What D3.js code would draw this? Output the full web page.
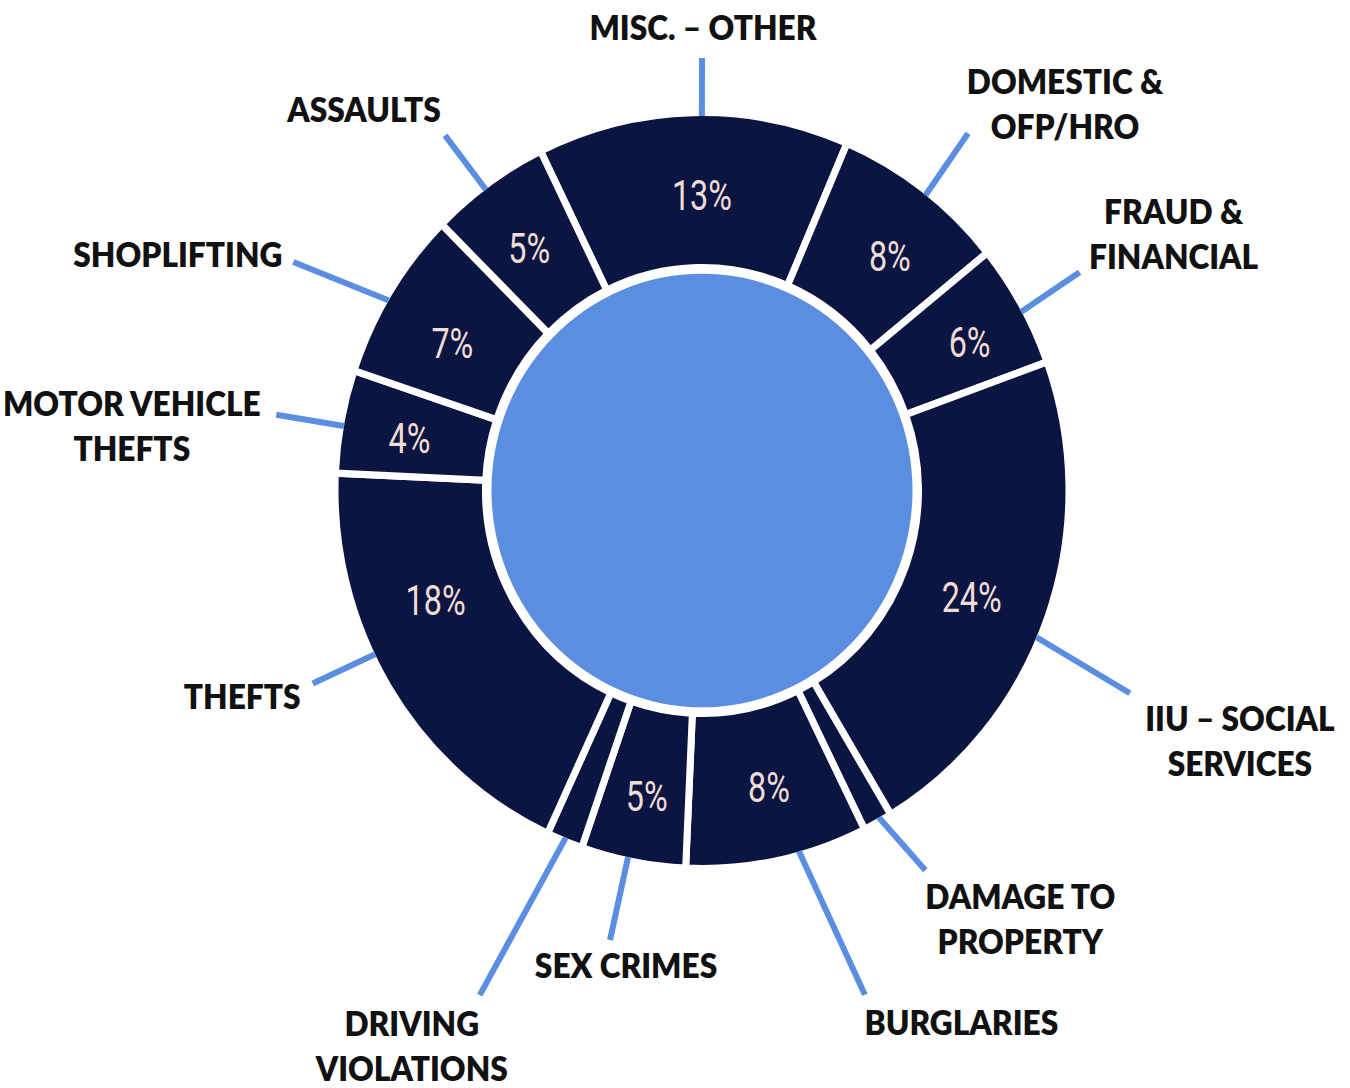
<!DOCTYPE html>
<html>
<head>
<meta charset="utf-8">
<script src="https://cdn.jsdelivr.net/npm/d3@7"></script>
<style>
  html, body { margin: 0; padding: 0; background: #ffffff; }
  svg { display: block; }
</style>
</head>
<body>
<svg id="chart" width="1350" height="1088"></svg>
<script>
// ---- data ----
const categories = ["Misc. – Other", "Domestic & OFP/HRO", "Fraud & Financial", "IIU – Social Services",
  "Damage to Property", "Burglaries", "Sex Crimes", "Driving Violations", "Thefts",
  "Motor Vehicle Thefts", "Shoplifting", "Assaults"];
const shares = [13.7, 7.7, 5.3, 21.9, 1.3, 8.0, 4.6, 1.6, 18.8, 4.4, 7.3, 5.3];
const pctLabels = ["13%", "8%", "6%", "24%", "", "8%", "5%", "", "18%", "4%", "7%", "5%"];
const labelLines = [
  ["MISC. – OTHER"],
  ["DOMESTIC &", "OFP/HRO"],
  ["FRAUD &", "FINANCIAL"],
  ["IIU – SOCIAL", "SERVICES"],
  ["DAMAGE TO", "PROPERTY"],
  ["BURGLARIES"],
  ["SEX CRIMES"],
  ["DRIVING", "VIOLATIONS"],
  ["THEFTS"],
  ["MOTOR VEHICLE", "THEFTS"],
  ["SHOPLIFTING"],
  ["ASSAULTS"]
];

// ---- layout / style ----
const W = 1350, H = 1088;
const cx = 702, cy = 490.5, sy = 1.03;
const rBlue = 210.5, rIn = 220, rOut = 363.5, gapW = 7;
const startDeg = -26.1;
const navy = "#0b1541", blue = "#5b8ee0", pctColor = "#f1ddd5", labelColor = "#111111";
// callout layout: start-angle shift, leader end (angle, radius), text offset from leader end
const callout = [
  {s: 1.4,   a: 0,     r: 420, dx: 1,      dy: -30},
  {s: 0.8,   a: 37.5,  r: 437, dx: 97,     dy: -51.5},
  {s: 0.9,   a: 60.7,  r: 433, dx: 94,     dy: -60},
  {s: 3.5,   a: 114.7, r: 471, dx: 110,    dy: 26},
  {s: -0.5,  a: 148.8, r: 431, dx: 95,     dy: 26.5},
  {s: -3.6,  a: 161.6, r: 516, dx: 96.5,   dy: 28.5},
  {s: 0.9,   a: 191.9, r: 446, dx: 16,     dy: 26},
  {s: 0,     a: 204.4, r: 538, dx: -68,    dy: 29},
  {s: 5.3,   a: 244.3, r: 432, dx: -70.5,  dy: 13.5},
  {s: -0.65, a: 279.8, r: 432, dx: -144.5, dy: -10.5},
  {s: -1.15, a: 298.5, r: 465, dx: -115.5, dy: -7},
  {s: -0.85, a: 323.3, r: 430, dx: -81,    dy: -25.5}
];
// percentage label placement: angle shift from slice middle, radius
const pctShift = [1.4, 2.4, 1.1, 1.5, 0, -1.2, -0.3, 0, 9.4, -0.65, -1.75, -0.65];
const pctR = [287, 295, 304, 289, 294, 296, 302, 294, 287, 297, 288, 292];
const labelFont = 33, labelScaleX = 0.96, lineGap = 45, pctFont = 42;

const rad = d => d * Math.PI / 180;
const deg = r => r * 180 / Math.PI;
const polar = (aDeg, r) => [cx + r * Math.sin(rad(aDeg)), cy - r * Math.cos(rad(aDeg)) * sy];

const svg = d3.select("#chart");
svg.append("rect").attr("width", W).attr("height", H).attr("fill", "#fff");

const pie = d3.pie().sort(null).value(d => d)
  .startAngle(rad(startDeg)).endAngle(rad(startDeg) + 2 * Math.PI);
const arcs = pie(shares);
const arc = d3.arc().innerRadius(rIn - gapW / 2).outerRadius(rOut + gapW / 2);

const g = svg.append("g").attr("transform", `translate(${cx},${cy}) scale(1,${sy})`);
g.append("circle").attr("r", rBlue).attr("fill", blue);
g.selectAll("path.slice").data(arcs).join("path")
  .attr("class", "slice")
  .attr("d", arc)
  .attr("fill", navy)
  .attr("stroke", "#fff")
  .attr("stroke-width", gapW)
  .attr("stroke-linejoin", "miter");

arcs.forEach((d, i) => {
  const mid = deg((d.startAngle + d.endAngle) / 2);
  const c = callout[i];
  const p0 = polar(mid + c.s, rOut);
  const p1 = polar(c.a, c.r);
  // leader line
  svg.append("line")
    .attr("x1", p0[0]).attr("y1", p0[1])
    .attr("x2", p1[0]).attr("y2", p1[1])
    .attr("stroke", blue).attr("stroke-width", 6);

  // category label
  const t = svg.append("text")
    .attr("transform", `translate(${p1[0] + c.dx},${p1[1] + c.dy}) scale(${labelScaleX},1)`)
    .attr("text-anchor", "middle")
    .attr("font-family", "Lato, 'Open Sans', sans-serif")
    .attr("font-weight", 800)
    .attr("font-size", labelFont)
    .attr("fill", labelColor);
  labelLines[i].forEach((ln, k) => {
    t.append("tspan")
      .attr("x", 0)
      .attr("y", k * lineGap + labelFont * 0.36)
      .text(ln);
  });

  // percentage label
  if (pctLabels[i]) {
    const pp = polar(mid + pctShift[i], pctR[i]);
    svg.append("text")
      .attr("transform", `translate(${pp[0]},${pp[1]}) scale(0.77,1)`)
      .attr("text-anchor", "middle")
      .attr("y", pctFont * 0.355)
      .attr("font-family", "Roboto, 'Open Sans', sans-serif")
      .attr("font-weight", 400)
      .attr("font-size", pctFont)
      .attr("fill", pctColor)
      .text(pctLabels[i]);
  }
});
</script>
</body>
</html>
